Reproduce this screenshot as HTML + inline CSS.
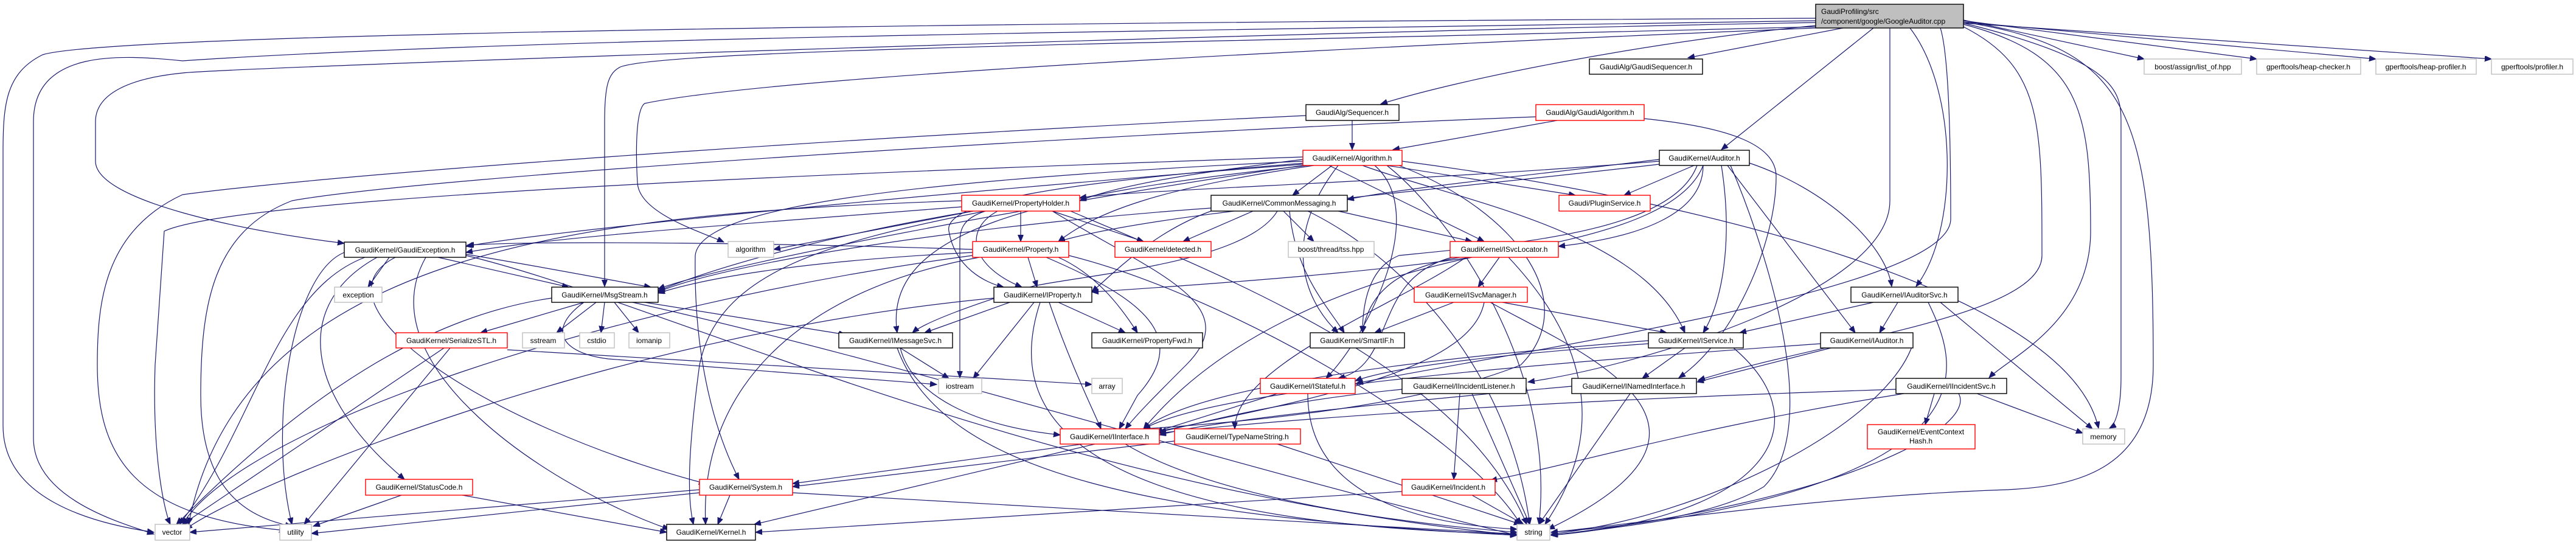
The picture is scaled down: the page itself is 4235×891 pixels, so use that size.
<!DOCTYPE html>
<html><head><meta charset="utf-8"><style>
html,body{margin:0;padding:0;background:#fff}
svg{display:block}
text{font-family:"Liberation Sans",sans-serif;font-size:12px;fill:#000}
.e{fill:none;stroke:#191970;stroke-width:1.2}
.n{fill:#fff;stroke:#000;stroke-width:1.4}
.r{fill:#fff;stroke:#ff0000;stroke-width:1.4}
.g{fill:#fff;stroke:#bfbfbf;stroke-width:1.4}
</style></head><body>
<svg width="4235" height="891" viewBox="0 0 4235 891" xmlns="http://www.w3.org/2000/svg">
<defs><marker id="a" markerUnits="userSpaceOnUse" markerWidth="12" markerHeight="10" refX="11" refY="4.5" orient="auto"><path d="M0,0 L11,4.5 L0,9 Z" fill="#191970" stroke="#191970"/></marker></defs>
<g class="e" marker-end="url(#a)">
<path d="M3030,46 L2775,95"/>
<path d="M2985,42 C2700,70 2400,130 2270,171"/>
<path d="M3080,46 L2830,246"/>
<path d="M3140,46 C3220,150 3220,380 3150,471"/>
<path d="M3107,46 L3107,330 C3107,480 2700,600 2512,628"/>
<path d="M3190,46 C3207,100 3207,300 3207,360 C3207,470 2600,560 2230,630"/>
<path d="M3228,44 C3357,110 3357,200 3357,420 C3357,520 3000,560 2792,625"/>
<path d="M3228,40 C3420,90 3437,180 3437,380 C3437,530 3300,590 3270,621"/>
<path d="M3228,38 C3480,100 3487,150 3487,200 L3487,620 C3487,680 3475,700 3468,704"/>
<path d="M3228,36 C3500,80 3540,180 3540,600 C3540,780 3400,800 3300,805 C3000,815 2700,860 2550,875"/>
<path d="M3228,33 L3525,97"/><path d="M3228,34 L3710,97"/><path d="M3228,36 L3906,97"/><path d="M3228,38 L4096,97"/>
<path d="M2985,30 C2000,35 200,50 70,90 C10,120 5,170 5,250 L5,700 C5,820 150,860 253,875"/>
<path d="M2985,34 C2000,50 900,60 300,100 C200,90 55,80 55,200 L55,720 C55,820 200,860 253,878"/>
<path d="M2985,37 C2000,55 400,110 300,120 C200,130 157,160 157,200 L157,265 C157,330 400,380 566,400"/>
<path d="M2985,44 C2000,70 1100,80 1020,110 C1000,120 994,140 994,200 L994,471"/>
<path d="M2985,46 C2400,70 1300,120 1060,170 C1045,180 1045,250 1048,300 C1050,350 1150,380 1190,398"/>
<path d="M2223,198 L2223,246"/>
<path d="M2147,190 C1500,220 600,280 300,320 C170,380 160,500 160,600 C160,750 220,850 470,872"/>
<path d="M2560,198 L2290,246"/>
<path d="M2525,192 C1800,220 700,290 480,330 C350,380 330,500 330,650 C330,800 400,850 480,865"/>
<path d="M2703,195 C2850,210 2920,240 2920,290 C2920,400 2850,560 2760,621"/>
<path d="M2142,262 C2000,280 1850,300 1775,330"/>
<path d="M2190,272 L2125,321"/>
<path d="M2280,272 L2590,321"/>
<path d="M2160,272 C1900,310 1800,350 1740,397"/>
<path d="M2145,268 C1750,300 1550,330 1560,380 C1570,440 1620,465 1650,472"/>
<path d="M2185,272 L2440,397"/>
<path d="M2240,272 C2400,330 2700,380 2770,547"/>
<path d="M2150,272 C1700,320 1450,380 1475,547"/>
<path d="M2200,272 C2100,400 2150,500 2200,547"/>
<path d="M2260,272 C2350,350 2250,550 2180,622"/>
<path d="M2142,265 C1400,300 1150,350 1143,420 C1140,600 1180,720 1215,788"/>
<path d="M2280,272 C2380,350 2560,600 2530,862"/>
<path d="M2142,258 C1500,280 400,320 270,380 L255,600 C250,750 270,840 280,862"/>
<path d="M2142,270 C1500,320 900,380 766,405"/>
<path d="M2142,272 C1800,320 1200,430 1082,475"/>
<path d="M2305,265 C2800,330 3400,480 3450,704"/>
<path d="M2300,272 C2500,350 2600,500 2500,600 C2300,680 1950,700 1880,705"/>
<path d="M2728,262 C2500,290 2300,310 2215,328"/>
<path d="M2785,272 L2670,321"/>
<path d="M2800,272 C2800,350 2700,390 2562,405"/>
<path d="M2830,272 C2850,400 2830,500 2800,547"/>
<path d="M2840,272 L3050,547"/>
<path d="M2876,268 C3000,310 3100,400 3110,471"/>
<path d="M2728,270 C2300,320 1900,350 1740,397"/>
<path d="M2728,265 C2300,300 1900,310 1775,325"/>
<path d="M2845,272 C2900,400 3000,700 2900,800 C2800,860 2600,870 2550,875"/>
<path d="M2800,272 C2750,400 2400,440 1795,480"/>
<path d="M2790,272 C2750,380 2500,400 2300,420 C2250,440 2240,500 2240,547"/>
<path d="M1678,347 L1678,397"/>
<path d="M1640,347 C1580,380 1600,440 1680,472"/>
<path d="M1730,347 L1880,397"/>
<path d="M1600,347 L1272,410"/>
<path d="M1581,340 C1200,370 900,390 766,415"/>
<path d="M1600,347 C1400,380 1200,430 1082,478"/>
<path d="M1730,347 C1900,450 2050,500 1950,600 C1900,650 1870,680 1850,705"/>
<path d="M1620,347 C1350,400 1180,450 1150,600 C1130,750 1130,820 1140,862"/>
<path d="M1760,347 C2000,450 2400,600 2510,862"/>
<path d="M1620,347 C1580,360 1578,380 1578,400 L1578,621"/>
<path d="M1581,330 C1000,350 400,400 310,862"/>
<path d="M2060,347 L1945,397"/>
<path d="M2110,347 L2160,397"/>
<path d="M2200,347 L2420,397"/>
<path d="M2100,347 C2050,430 1800,450 1700,470 C1600,500 1520,530 1500,547"/>
<path d="M1991,342 C1600,370 1200,430 1082,480"/>
<path d="M2120,347 C2130,450 2180,500 2210,547"/>
<path d="M1991,347 C1900,380 1840,440 1795,480"/>
<path d="M2150,347 C2300,420 2480,600 2515,862"/>
<path d="M1690,423 L1705,472"/>
<path d="M1740,423 C1800,450 1840,500 1870,547"/>
<path d="M1599,410 C1300,400 900,395 768,403"/>
<path d="M1599,415 C1300,430 1150,460 1082,482"/>
<path d="M1610,423 C1300,480 1150,650 1160,862"/>
<path d="M1757,420 C2000,480 2400,700 2500,862"/>
<path d="M1720,423 C1900,500 1950,560 1870,650 L1840,705"/>
<path d="M1599,420 C1000,500 400,700 300,862"/>
<path d="M1660,497 L1520,547"/>
<path d="M1700,497 L1600,622"/>
<path d="M1740,497 L1850,547"/>
<path d="M1725,497 C1760,600 1800,680 1810,705"/>
<path d="M1710,497 C1660,650 1700,860 2494,878"/>
<path d="M1634,490 C1000,550 400,800 305,870"/>
<path d="M2465,423 L2430,472"/>
<path d="M2400,423 C2300,440 2250,480 2240,547"/>
<path d="M2420,423 C2200,470 2000,560 1880,705"/>
<path d="M2410,423 C2300,500 2030,600 2030,705"/>
<path d="M2480,423 C2600,550 2650,700 2540,862"/>
<path d="M2400,420 C2250,450 2300,600 2200,622"/>
<path d="M2390,497 L2260,547"/>
<path d="M2470,497 L2740,547"/>
<path d="M2440,497 C2420,600 2200,650 1900,710"/>
<path d="M2450,497 C2600,580 2900,700 2545,870"/>
<path d="M3080,497 L2860,547"/>
<path d="M3120,497 L3090,547"/>
<path d="M3170,497 C3220,600 3300,800 2550,880"/>
<path d="M3190,497 L3440,705"/>
<path d="M2770,572 L2700,622"/>
<path d="M2710,565 C2500,580 2300,600 2228,626"/>
<path d="M2850,572 C3000,700 2900,850 2550,880"/>
<path d="M2710,560 C2200,600 1950,650 1880,705"/>
<path d="M3010,572 L2790,628"/>
<path d="M3145,565 C3100,700 2800,850 2550,878"/>
<path d="M2993,565 C2500,600 2000,640 1880,705"/>
<path d="M3180,647 L3165,698"/>
<path d="M3250,647 L3424,712"/>
<path d="M3220,647 C3250,700 3050,820 2550,880"/>
<path d="M3130,647 C2800,700 2600,760 2450,790"/>
<path d="M3117,640 C2500,660 2100,690 1906,712"/>
<path d="M2305,640 C2100,660 2000,690 1906,710"/>
<path d="M2400,647 L2390,788"/>
<path d="M2420,647 L2515,862"/>
<path d="M2584,635 C2300,660 2000,690 1906,715"/>
<path d="M2680,647 L2530,862"/>
<path d="M2100,647 L1900,710"/>
<path d="M2150,647 C2150,800 2300,860 2494,870"/>
<path d="M1780,730 L1303,795"/>
<path d="M1800,730 L1240,862"/>
<path d="M1850,730 C2000,820 2300,860 2494,875"/>
<path d="M2100,730 L2500,862"/>
<path d="M1931,725 L1303,800"/>
<path d="M2420,814 L2505,862"/>
<path d="M2305,808 L1242,875"/>
<path d="M1200,814 L1180,862"/>
<path d="M1150,805 L312,875"/>
<path d="M1150,810 L512,877"/>
<path d="M1303,810 C1800,840 2300,865 2494,878"/>
<path d="M660,814 L515,865"/>
<path d="M760,814 L1096,875"/>
<path d="M960,497 L790,547"/>
<path d="M980,497 L915,547"/>
<path d="M994,497 L988,547"/>
<path d="M1010,497 L1050,547"/>
<path d="M1060,497 L1390,550"/>
<path d="M960,497 C900,540 920,580 1000,590 L1540,632"/>
<path d="M907,490 C700,520 500,650 290,862"/>
<path d="M1040,497 C1500,600 2000,760 2494,880"/>
<path d="M730,572 L300,862"/>
<path d="M740,572 L500,862"/>
<path d="M834,575 L1795,632"/>
<path d="M640,423 L605,472"/>
<path d="M720,423 L935,472"/>
<path d="M620,423 C480,500 500,650 665,788"/>
<path d="M650,423 C500,500 800,700 1160,795"/>
<path d="M700,423 C600,600 900,800 1100,870"/>
<path d="M600,423 C450,480 420,700 295,862"/>
<path d="M566,415 C480,450 440,700 480,862"/>
<path d="M766,420 C1100,500 1700,800 2494,880"/>
<path d="M766,418 C900,440 1000,460 1070,472"/>
<path d="M1480,572 L1560,622"/>
<path d="M1480,572 C1500,650 1600,700 1743,715"/>
<path d="M1475,572 C1550,780 1900,850 2494,880"/>
</g>
<g>
<rect x="2985" y="7" width="243" height="39" fill="#bfbfbf" stroke="#000" stroke-width="1.4"/>
<text x="2994" y="23">GaudiProfiling/src</text><text x="2994" y="39">/component/google/GoogleAuditor.cpp</text>
</g>
<g text-anchor="middle">
<rect class="n" x="2613" y="97" width="186" height="25"/><text x="2706" y="114">GaudiAlg/GaudiSequencer.h</text>
<rect class="g" x="3525" y="97" width="160" height="25"/><text x="3605" y="114">boost/assign/list_of.hpp</text>
<rect class="g" x="3710" y="97" width="171" height="25"/><text x="3795" y="114">gperftools/heap-checker.h</text>
<rect class="g" x="3906" y="97" width="165" height="25"/><text x="3988" y="114">gperftools/heap-profiler.h</text>
<rect class="g" x="4096" y="97" width="134" height="25"/><text x="4163" y="114">gperftools/profiler.h</text>
<rect class="n" x="2147" y="172" width="153" height="26"/><text x="2223" y="189">GaudiAlg/Sequencer.h</text>
<rect class="r" x="2525" y="172" width="178" height="26"/><text x="2614" y="189">GaudiAlg/GaudiAlgorithm.h</text>
<rect class="r" x="2142" y="247" width="163" height="25"/><text x="2223" y="264">GaudiKernel/Algorithm.h</text>
<rect class="n" x="2728" y="247" width="148" height="25"/><text x="2802" y="264">GaudiKernel/Auditor.h</text>
<rect class="r" x="1581" y="321" width="194" height="26"/><text x="1678" y="338">GaudiKernel/PropertyHolder.h</text>
<rect class="n" x="1991" y="321" width="224" height="26"/><text x="2103" y="338">GaudiKernel/CommonMessaging.h</text>
<rect class="r" x="2563" y="321" width="150" height="26"/><text x="2638" y="338">Gaudi/PluginService.h</text>
<rect class="n" x="566" y="398" width="200" height="25"/><text x="666" y="415">GaudiKernel/GaudiException.h</text>
<rect class="g" x="1197" y="397" width="75" height="26"/><text x="1234" y="414">algorithm</text>
<rect class="r" x="1599" y="397" width="158" height="26"/><text x="1678" y="414">GaudiKernel/Property.h</text>
<rect class="r" x="1833" y="397" width="158" height="26"/><text x="1912" y="414">GaudiKernel/detected.h</text>
<rect class="g" x="2118" y="397" width="141" height="26"/><text x="2188" y="414">boost/thread/tss.hpp</text>
<rect class="r" x="2384" y="397" width="178" height="26"/><text x="2473" y="414">GaudiKernel/ISvcLocator.h</text>
<rect class="g" x="550" y="472" width="78" height="25"/><text x="589" y="489">exception</text>
<rect class="n" x="907" y="472" width="175" height="25"/><text x="994" y="489">GaudiKernel/MsgStream.h</text>
<rect class="n" x="1634" y="472" width="161" height="25"/><text x="1714" y="489">GaudiKernel/IProperty.h</text>
<rect class="r" x="2325" y="472" width="186" height="25"/><text x="2418" y="489">GaudiKernel/ISvcManager.h</text>
<rect class="n" x="3043" y="472" width="176" height="25"/><text x="3131" y="489">GaudiKernel/IAuditorSvc.h</text>
<rect class="r" x="651" y="547" width="183" height="25"/><text x="742" y="564">GaudiKernel/SerializeSTL.h</text>
<rect class="g" x="859" y="547" width="69" height="25"/><text x="893" y="564">sstream</text>
<rect class="g" x="953" y="547" width="57" height="25"/><text x="981" y="564">cstdio</text>
<rect class="g" x="1034" y="547" width="67" height="25"/><text x="1067" y="564">iomanip</text>
<rect class="n" x="1379" y="547" width="187" height="25"/><text x="1472" y="564">GaudiKernel/IMessageSvc.h</text>
<rect class="n" x="1795" y="547" width="182" height="25"/><text x="1886" y="564">GaudiKernel/PropertyFwd.h</text>
<rect class="n" x="2154" y="547" width="155" height="25"/><text x="2231" y="564">GaudiKernel/SmartIF.h</text>
<rect class="n" x="2710" y="547" width="156" height="25"/><text x="2788" y="564">GaudiKernel/IService.h</text>
<rect class="n" x="2993" y="547" width="152" height="25"/><text x="3069" y="564">GaudiKernel/IAuditor.h</text>
<rect class="g" x="1543" y="622" width="71" height="25"/><text x="1578" y="639">iostream</text>
<rect class="g" x="1795" y="622" width="50" height="25"/><text x="1820" y="639">array</text>
<rect class="r" x="2072" y="622" width="156" height="25"/><text x="2150" y="639">GaudiKernel/IStateful.h</text>
<rect class="n" x="2305" y="622" width="204" height="25"/><text x="2407" y="639">GaudiKernel/IIncidentListener.h</text>
<rect class="n" x="2584" y="622" width="205" height="25"/><text x="2686" y="639">GaudiKernel/INamedInterface.h</text>
<rect class="n" x="3117" y="622" width="182" height="25"/><text x="3208" y="639">GaudiKernel/IIncidentSvc.h</text>
<rect class="r" x="1743" y="705" width="163" height="25"/><text x="1824" y="722">GaudiKernel/IInterface.h</text>
<rect class="r" x="1931" y="705" width="207" height="25"/><text x="2034" y="722">GaudiKernel/TypeNameString.h</text>
<rect class="r" x="3070" y="698" width="177" height="40"/><text x="3158" y="714">GaudiKernel/EventContext</text><text x="3158" y="729">Hash.h</text>
<rect class="g" x="3424" y="705" width="69" height="25"/><text x="3458" y="722">memory</text>
<rect class="r" x="601" y="788" width="176" height="26"/><text x="689" y="805">GaudiKernel/StatusCode.h</text>
<rect class="r" x="1150" y="788" width="153" height="26"/><text x="1226" y="805">GaudiKernel/System.h</text>
<rect class="r" x="2305" y="788" width="153" height="26"/><text x="2381" y="805">GaudiKernel/Incident.h</text>
<rect class="g" x="255" y="862" width="57" height="26"/><text x="283" y="879">vector</text>
<rect class="g" x="460" y="862" width="52" height="26"/><text x="486" y="879">utility</text>
<rect class="n" x="1096" y="862" width="146" height="26"/><text x="1169" y="879">GaudiKernel/Kernel.h</text>
<rect class="g" x="2494" y="862" width="54" height="26"/><text x="2521" y="879">string</text>
</g>
</svg>
</body></html>
